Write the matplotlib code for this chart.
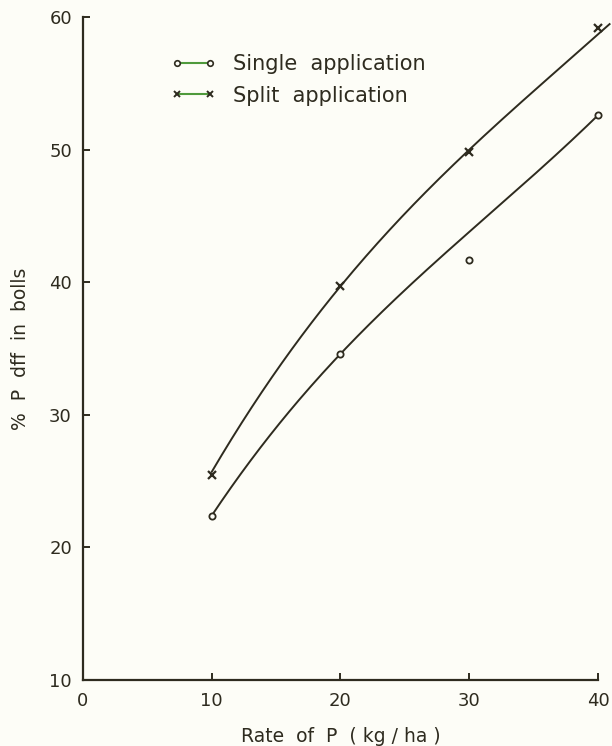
import numpy as np
import matplotlib
matplotlib.use("Agg")
import matplotlib.pyplot as plt
from matplotlib.lines import Line2D

# ---- data ----
rate = [10, 20, 30, 40]
single_pts = [22.4, 34.6, 41.7, 52.6]
split_pts = [25.5, 39.7, 49.8, 59.2]
# values of the hand-drawn smooth curves at the same rates
single_curve = [22.4, 34.6, 43.8, 52.6]
split_curve = [25.7, 39.7, 50.0, 58.7]
xticks = [0, 10, 20, 30, 40]
yticks = [10, 20, 30, 40, 50, 60]

ink = '#2e2b1f'
bg = '#fdfdf7'
green = '#4f9a3c'

plt.rcParams['font.family'] = ['DejaVu Sans']

fig = plt.figure(figsize=(6.12, 7.46), dpi=100, facecolor=bg)
ax = fig.add_axes([0.1356, 0.0885, 0.8415, 0.8885])
ax.set_facecolor(bg)

def smooth(xs, ys, x0, x1):
    c = np.polyfit(xs, ys, 3)
    xx = np.linspace(x0, x1, 200)
    return xx, np.polyval(c, xx)

xx, yy = smooth(rate, single_curve, 10, 40)
ax.plot(xx, yy, color=ink, lw=1.4, clip_on=False)
xx, yy = smooth(rate, split_curve, 10, 40.9)
ax.plot(xx, yy, color=ink, lw=1.4, clip_on=False)

ax.plot(rate, single_pts, linestyle='none', marker='o', ms=4.5,
        mfc=bg, mec=ink, mew=1.3, clip_on=False)
ax.plot(rate, split_pts, linestyle='none', marker='x', ms=6,
        mec=ink, mew=1.6, clip_on=False)

handles = [
    Line2D([], [], color=green, lw=1.5, marker='o', ms=4, mfc=bg, mec=ink, mew=1.2),
    Line2D([], [], color=green, lw=1.5, marker='x', ms=5, mec=ink, mew=1.4),
]
leg = ax.legend(handles, ['Single  application', 'Split  application'],
                numpoints=2, loc='upper left', bbox_to_anchor=(0.170, 0.944),
                frameon=False, fontsize=15, handlelength=2.2, handletextpad=0.8,
                labelspacing=0.55, borderpad=0, borderaxespad=0)
for t in leg.get_texts():
    t.set_color(ink)

ax.set_xlim(0, 40)
ax.set_ylim(10, 60)
ax.set_xticks(xticks)
ax.set_yticks(yticks)
ax.set_xticklabels([str(v) for v in xticks])
ax.set_yticklabels([str(v) for v in yticks])

for s in ['top', 'right']:
    ax.spines[s].set_visible(False)
for s in ['left', 'bottom']:
    ax.spines[s].set_color(ink)
    ax.spines[s].set_linewidth(1.6)

ax.tick_params(axis='both', direction='in', length=5, width=1.4, colors=ink,
               labelsize=13, labelcolor=ink)
ax.tick_params(axis='x', pad=9)
ax.tick_params(axis='y', pad=8)

ax.set_xlabel('Rate  of  P  ( kg / ha )', fontsize=13.5, color=ink, labelpad=12)
ax.set_ylabel('%  P  dff  in  bolls', fontsize=13.5, color=ink, labelpad=14)

fig.savefig('out.png', dpi=100, facecolor=bg)
